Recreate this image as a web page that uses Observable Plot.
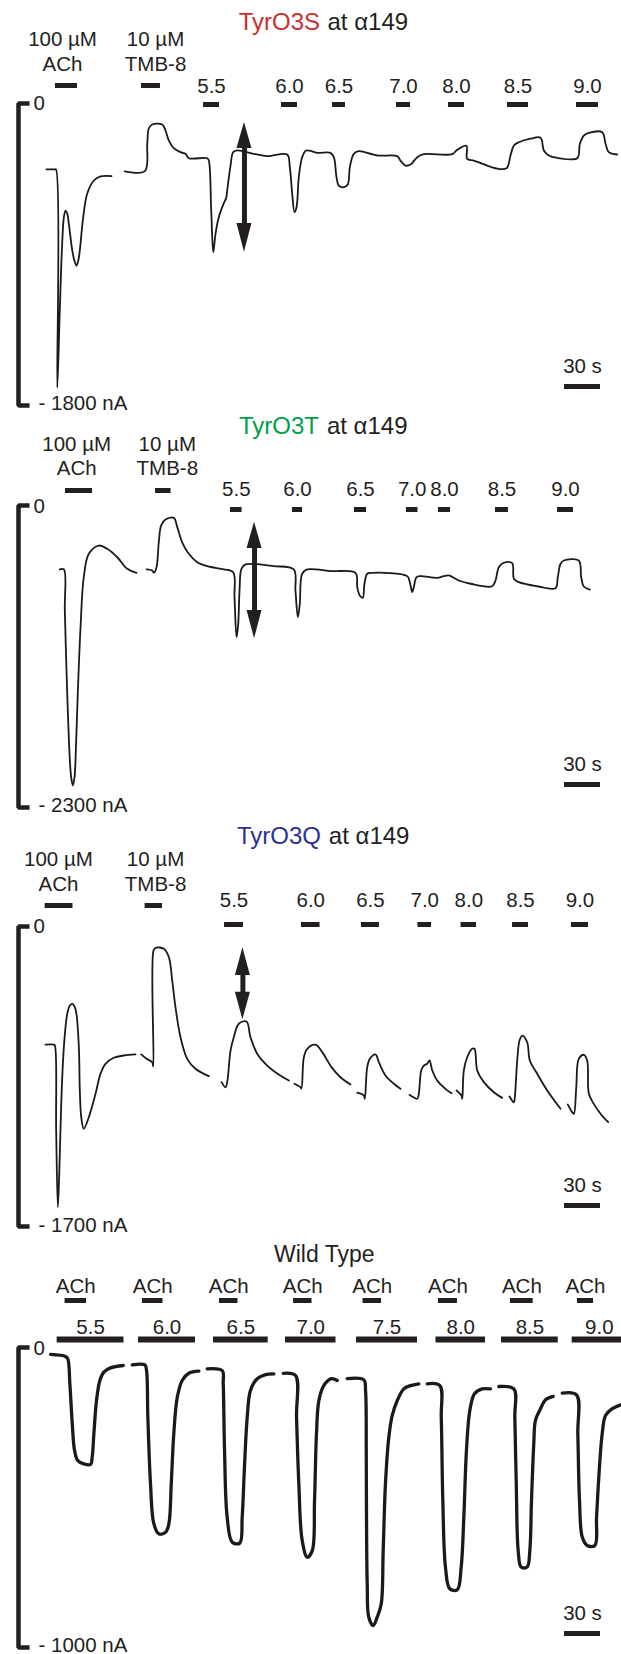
<!DOCTYPE html>
<html><head><meta charset="utf-8">
<script src="https://cdn.jsdelivr.net/npm/d3@7"></script>
<script src="https://cdn.jsdelivr.net/npm/@observablehq/plot@0.6"></script>
<style>
body{margin:0;background:#fff;}
#fig{width:621px;}
#fig svg{display:block;}
</style></head><body><div id="fig"></div>
<script>
// ---------- DATA (time in s, current in nA) ----------
// Panel 1: TyrO3S at α149
const s_segments = [
 [[38.3,-393],[45.0,-393],[46.2,-393],[47.3,-1693],[49.4,-1234],[51.4,-834],[52.8,-678],[54.2,-638],[55.6,-656],[56.9,-715],[59.8,-876],[61.5,-935],[63.3,-966],[65,-930],[66.1,-876],[68.9,-679],[72.3,-536],[77.8,-459],[83.3,-435],[92.5,-433]],
 [[103.6,-405],[120.3,-403],[122.3,-238],[123.6,-149],[126.4,-125],[134.8,-125],[137.5,-161],[140.3,-221],[144.4,-266],[150,-290],[154.2,-300],[156.9,-326],[172.3,-326],[173.6,-340],[175.6,-638],[177.3,-886],[179.2,-775],[181.9,-678],[186.1,-594],[188.1,-562],[188.9,-519],[191.7,-370],[193.9,-290],[197.3,-280],[211.1,-300],[222.3,-314],[238.9,-304],[241.1,-380],[243.1,-538],[245,-648],[246.7,-618],[248.6,-439],[251.4,-320],[254.8,-280],[263.9,-294],[275,-294],[277.8,-320],[280,-439],[281.9,-489],[286.1,-499],[289.4,-483],[291.1,-380],[294.4,-300],[298.6,-284],[313.9,-310],[330.6,-314],[333.3,-340],[337.5,-370],[341.7,-364],[347.3,-320],[352.8,-302],[376.4,-302],[380.6,-276],[388.3,-252],[388.9,-330],[394.4,-340],[405.6,-370],[412.5,-386],[421.7,-386],[425,-310],[427.8,-250],[431.9,-231],[441.7,-210],[450,-204],[452.8,-280],[456.9,-310],[463.9,-324],[480.6,-326],[482.8,-240],[486.1,-191],[490.3,-175],[501.4,-171],[504.2,-240],[506.9,-290],[513.9,-304]]
];
const s_chemTop = ["100 µM","10 µM"];
const s_chemBottom = ["ACh","TMB-8"];
const s_chemLabelAt = [51.7,129.2];
const s_chemStart = [45.8,117.5];
const s_chemEnd = [64.2,133.3];
const s_pH = ["5.5","6.0","6.5","7.0","8.0","8.5","9.0"];
const s_pHStart = [169.2,234.2,276.7,330,373.3,422.5,480];
const s_pHEnd = [182.5,247.5,287.5,341.7,386.7,440,498.3];
const s_arrow = {at:203.3, tipTop:-113, baseTop:-268, baseBottom:-715, tipBottom:-886};

// Panel 2: TyrO3T at α149
const t_segments = [
 [[49.4,-487],[52.8,-487],[53.6,-800],[55.6,-1432],[57.8,-1942],[58.9,-2069],[60.3,-2132],[61.7,-2069],[62.5,-1942],[64.4,-1432],[66.7,-927],[69.4,-546],[73.6,-368],[81.9,-305],[88.9,-330],[97.3,-394],[105.6,-482],[113.3,-513]],
 [[121.7,-487],[126.4,-495],[127.8,-513],[130,-470],[131.9,-280],[133.9,-152],[137.5,-107],[144.4,-94],[147.3,-165],[151.4,-280],[156.9,-368],[163.9,-432],[172.3,-462],[186.1,-487],[193.9,-508],[195,-698],[196.7,-1003],[198.1,-901],[199.2,-647],[200.8,-482],[204.2,-449],[227.8,-462],[244.4,-487],[245.8,-647],[247.8,-851],[249.4,-749],[251.4,-520],[255.6,-487],[275.8,-500],[295.8,-513],[297.3,-622],[299.4,-685],[301.9,-703],[303.3,-596],[305.6,-520],[309.8,-513],[338.9,-538],[341.1,-584],[343.1,-660],[344.4,-622],[346.7,-546],[350,-538],[363.9,-551],[369.4,-538],[373.6,-533],[381.9,-571],[391.7,-596],[409.7,-615],[412.5,-571],[415.3,-470],[419.4,-436],[426.4,-439],[427.8,-558],[431.9,-584],[447.3,-615],[462.5,-630],[464.4,-546],[466.7,-444],[469.4,-419],[481.9,-419],[483.9,-546],[486.1,-617],[491.1,-640]]
];
const t_chemTop = ["100 µM","10 µM"];
const t_chemBottom = ["ACh","TMB-8"];
const t_chemLabelAt = [63.5,139];
const t_chemStart = [54.2,129.2];
const t_chemEnd = [76.7,142.1];
const t_pH = ["5.5","6.0","6.5","7.0","8.0","8.5","9.0"];
const t_pHStart = [191.7,243.3,295,338.3,365,412.5,464.2];
const t_pHEnd = [201.3,251.7,305,347.9,375,423.3,477.5];
const t_arrow = {at:211.7, tipTop:-127, baseTop:-327, baseBottom:-800, tipBottom:-1015};

// Panel 3: TyrO3Q at α149
const q_segments = [
 [[37.5,-669],[44.4,-669],[45.3,-674],[46.4,-1156],[47.8,-1591],[49.2,-1345],[50.8,-967],[52.8,-684],[55.6,-495],[57.8,-448],[59.8,-438],[61.7,-453],[63.3,-495],[65.3,-684],[66.1,-929],[67.3,-1081],[69.4,-1146],[73.6,-1081],[79.2,-948],[83.3,-835],[87.5,-778],[94.4,-744],[102.8,-731],[112.5,-725]],
 [[117.3,-725],[121.7,-750],[126.4,-769],[127.3,-793],[127.5,-136],[129.2,-121],[136.1,-126],[140.3,-174],[143.1,-306],[145.8,-457],[150,-627],[155.6,-750],[162.5,-806],[173.6,-848]],
 [[184.2,-882],[187.5,-911],[188.9,-882],[191.7,-703],[194.4,-627],[198.6,-551],[205,-538],[208.3,-627],[213.9,-721],[222.3,-788],[231.9,-839],[240.3,-873]],
 [[245,-891],[250,-911],[250.8,-918],[252.8,-741],[255.6,-693],[262.5,-670],[268.1,-712],[275.8,-797],[283.3,-854],[291.7,-895]],
 [[297.3,-942],[302.8,-958],[303.6,-976],[305.6,-797],[307.8,-750],[312.5,-725],[315.3,-769],[320.8,-844],[327.8,-891],[333.3,-920]],
 [[340.8,-954],[347.3,-976],[348.6,-948],[350.6,-816],[352.8,-788],[355.6,-778],[357.5,-759],[359.8,-816],[363.9,-873],[370.8,-920],[375.8,-945]],
 [[380,-929],[384.2,-958],[384.8,-976],[386.1,-816],[388.9,-741],[393.1,-693],[395,-693],[397.3,-816],[402.8,-882],[411.1,-939],[418.1,-971]],
 [[424.2,-963],[427.8,-996],[428.6,-967],[430.6,-759],[432.5,-646],[434.8,-618],[438.9,-656],[441.1,-759],[447.3,-835],[455.6,-929],[466.7,-1033]],
 [[472.8,-1009],[476.4,-1052],[477.8,-1061],[479.8,-911],[481.9,-750],[486.1,-727],[488.9,-759],[490.3,-948],[494.4,-1005],[500,-1061],[506.4,-1109]]
];
const q_chemTop = ["100 µM","10 µM"];
const q_chemBottom = ["ACh","TMB-8"];
const q_chemLabelAt = [48.3,129.2];
const q_chemStart = [37.2,120.5];
const q_chemEnd = [60.4,135];
const q_pH = ["5.5","6.0","6.5","7.0","8.0","8.5","9.0"];
const q_pHStart = [186.7,250.8,300.8,347.9,383.8,426.7,475.8];
const q_pHEnd = [202.5,266.3,315.8,359.2,396.7,440,490];
const q_arrow = {at:202, tipTop:-121, baseTop:-278, baseBottom:-372, tipBottom:-529};

// Panel 4: Wild Type
const w_segments = [
 [[41.7,-23],[54.2,-30],[56.1,-38],[57.8,-121],[59.8,-254],[61.7,-343],[64.4,-377],[69.4,-388],[75,-390],[76.4,-366],[77.8,-288],[80,-177],[82.8,-110],[86.1,-82],[91.7,-68],[102.3,-60]],
 [[109.8,-58],[120.3,-58],[121.7,-77],[122.8,-232],[125,-454],[127.8,-588],[131.9,-621],[137.5,-616],[140.3,-588],[142.3,-454],[144.4,-288],[147.3,-166],[151.4,-110],[156.9,-86],[165.3,-79]],
 [[172.3,-71],[184.8,-77],[185.6,-121],[186.7,-343],[188.9,-566],[193.1,-649],[199.4,-652],[201.4,-566],[203.3,-399],[205.6,-232],[208.3,-143],[213.9,-104],[220.3,-91],[227.8,-88]],
 [[235.6,-86],[245.8,-93],[246.7,-232],[248.6,-454],[251.4,-643],[255.6,-699],[259.8,-677],[261.7,-510],[263.3,-288],[265.3,-177],[269.4,-127],[275.8,-104],[280.6,-110]],
 [[288.9,-104],[302.8,-108],[304.2,-143],[304.8,-343],[305,-566],[305.6,-788],[306.9,-899],[310.6,-927],[313.9,-899],[317.3,-854],[318.9,-677],[320.8,-454],[323.6,-299],[326.4,-227],[330.6,-177],[336.1,-138],[341.7,-127],[348.6,-121]],
 [[355.6,-121],[366.1,-127],[367.3,-232],[368.6,-510],[370.8,-732],[374.4,-804],[380.6,-808],[383.9,-732],[386.1,-566],[388.3,-343],[391.1,-210],[395,-154],[401.4,-138],[408.3,-138]],
 [[415.3,-130],[427.8,-138],[428.6,-232],[429.8,-454],[431.4,-677],[433.9,-732],[438.9,-732],[441.1,-677],[442.5,-510],[444.4,-321],[445.8,-243],[450,-204],[454.2,-174],[460.6,-163]],
 [[468.1,-152],[480,-158],[481.1,-288],[482.5,-510],[484.8,-632],[488.9,-660],[495.3,-660],[496.7,-566],[498.6,-432],[501.4,-288],[504.2,-227],[509.8,-204],[517.5,-190]]
];
const w_pH = ["5.5","6.0","6.5","7.0","7.5","8.0","8.5","9.0"];
const w_pHStart = [47.2,115,177.5,237.5,296.7,362.9,417.5,476.4];
const w_pHEnd = [102.9,162.5,223.1,279.6,347.5,404.2,464.8,521.7];
const w_achStart = [53.8,118.3,182.5,244.2,302.1,365,425,480.8];
const w_achEnd = [71.7,135.4,197.9,259.6,317.5,380.8,443.9,494.2];

const scaleBarSeconds = 30;

// ---------- DRAWING ----------
const INK = "#231f20";
const FONT = "'Liberation Sans', Arial, Helvetica, sans-serif";
const LAB = 20.5;
const TITLE = 24;

function tri(x, base, tip, hw) {
  return [{x: x - hw, a: base, b: base}, {x: x, a: base, b: tip}, {x: x + hw, a: base, b: base}];
}

function panelPlot(o) {
  const pts = o.segments.flatMap((seg, i) => seg.map(([t, v]) => ({t, v, seg: i})));
  const pH = o.pH.map((p, i) => ({label: p, x1: o.pHStart[i], x2: o.pHEnd[i]}));
  const marks = [];
  // vertical calibration bracket
  const br = [[24.2, 0], [15, 0], [15, o.yMin], [24.2, o.yMin]];
  marks.push(Plot.line(br, {x: d => d[0], y: d => d[1], stroke: INK, strokeWidth: 4.5, strokeLinejoin: "miter", strokeLinecap: "butt"}));
  marks.push(Plot.text(["0"], {x: () => 27.5, y: () => 0, text: d => d, textAnchor: "start", fontSize: LAB, fill: INK, dy: o.d.zero}));
  marks.push(Plot.text([o.yMin], {x: () => 31.7, y: d => d, text: d => "- " + (-d) + " nA", textAnchor: "start", fontSize: LAB, fill: INK, dy: o.d.bottom}));
  // title
  if (o.titleColor) {
    marks.push(Plot.text([o.titleName], {x: () => o.titleEnd, y: () => 0, text: d => d, textAnchor: "end", fontSize: TITLE, fill: o.titleColor, dy: o.d.title}));
    marks.push(Plot.text(["at α149"], {x: () => o.titleStart, y: () => 0, text: d => d, textAnchor: "start", fontSize: TITLE, fill: INK, dy: o.d.title}));
  } else {
    marks.push(Plot.text([o.titleName], {x: () => o.titleStart, y: () => 0, text: d => d, textAnchor: "middle", fontSize: 23, fill: INK, dy: o.d.title}));
  }
  // drug application labels/bars
  if (o.chem) {
    const chem = o.chem.top.map((t, i) => ({top: t, bottom: o.chem.bottom[i], at: o.chem.at[i], x1: o.chem.start[i], x2: o.chem.end[i]}));
    marks.push(Plot.text(chem, {x: "at", y: () => 0, text: "top", fontSize: LAB, fill: INK, dy: o.d.line1}));
    marks.push(Plot.text(chem, {x: "at", y: () => 0, text: "bottom", fontSize: LAB, fill: INK, dy: o.d.line2}));
    marks.push(Plot.ruleY(chem, {x1: "x1", x2: "x2", y: () => 0, stroke: INK, strokeWidth: 5, dy: o.d.chemBar}));
  }
  if (o.ach) {
    const ach = o.ach.start.map((s, i) => ({x1: s, x2: o.ach.end[i]}));
    marks.push(Plot.text(ach, {x: d => (d.x1 + d.x2) / 2, y: () => 0, text: () => "ACh", fontSize: LAB, fill: INK, dy: o.d.line1}));
    marks.push(Plot.ruleY(ach, {x1: "x1", x2: "x2", y: () => 0, stroke: INK, strokeWidth: 5, dy: o.d.chemBar}));
  }
  marks.push(Plot.text(pH, {x: d => (d.x1 + d.x2) / 2, y: () => 0, text: "label", fontSize: LAB, fill: INK, dy: o.d.pHLabel}));
  marks.push(Plot.ruleY(pH, {x1: "x1", x2: "x2", y: () => 0, stroke: INK, strokeWidth: o.pHBarWidth || 5, dy: o.d.pHBar}));
  // time scale bar
  marks.push(Plot.ruleY([o.yMin], {x1: () => 500 - scaleBarSeconds, x2: () => 500, stroke: INK, strokeWidth: 5, dy: o.d.sbBar}));
  marks.push(Plot.text([scaleBarSeconds + " s"], {x: () => 500 - scaleBarSeconds / 2, y: () => o.yMin, text: d => d, fontSize: LAB, fill: INK, dy: o.d.sbText}));
  // double arrow
  if (o.arrow) {
    const a = o.arrow;
    marks.push(Plot.ruleX([a.at], {y1: () => a.baseTop + 20, y2: () => a.baseBottom - 20, stroke: INK, strokeWidth: 5}));
    marks.push(Plot.area(tri(a.at, a.baseTop, a.tipTop, 6.25), {x1: "x", y1: "a", y2: "b", fill: INK, curve: "linear"}));
    marks.push(Plot.area(tri(a.at, a.baseBottom, a.tipBottom, 6.25), {x1: "x", y1: "a", y2: "b", fill: INK, curve: "linear"}));
  }
  // current trace
  marks.push(Plot.line(pts, {x: "t", y: "v", z: "seg", stroke: "#1a1a1a", strokeWidth: o.lw, curve: "catmull-rom", strokeLinejoin: "round", strokeLinecap: "round"}));

  return Plot.plot({
    width: 621, height: o.height, margin: 0,
    x: {domain: [0, 517.5], range: [0, 621], axis: null},
    y: {domain: [o.yMin, 0], range: [o.bottom, o.top], axis: null},
    style: {fontFamily: FONT, background: "#fff", overflow: "visible"},
    marks
  });
}

const fig = document.getElementById("fig");
fig.append(panelPlot({
  height: 410, top: 103, bottom: 405, yMin: -1800, lw: 1.8,
  segments: s_segments, titleName: "TyrO3S", titleColor: "#c8302f", titleEnd: 266.3, titleStart: 272.5,
  chem: {top: s_chemTop, bottom: s_chemBottom, at: s_chemLabelAt, start: s_chemStart, end: s_chemEnd},
  pH: s_pH, pHStart: s_pHStart, pHEnd: s_pHEnd, arrow: s_arrow,
  d: {title: -81, line1: -64, line2: -39, chemBar: -18, pHLabel: -17, pHBar: 1, zero: 0, bottom: -2, sbText: -39, sbBar: -19}
}));
fig.append(panelPlot({
  height: 412, top: 95, bottom: 397, yMin: -2300, lw: 1.8,
  segments: t_segments, titleName: "TyrO3T", titleColor: "#00a04b", titleEnd: 265.4, titleStart: 272,
  chem: {top: t_chemTop, bottom: t_chemBottom, at: t_chemLabelAt, start: t_chemStart, end: t_chemEnd},
  pH: t_pH, pHStart: t_pHStart, pHEnd: t_pHEnd, arrow: t_arrow,
  d: {title: -79, line1: -61, line2: -37.5, chemBar: -15, pHLabel: -16, pHBar: 4, zero: 1, bottom: -2, sbText: -43, sbBar: -23}
}));
fig.append(panelPlot({
  height: 420, top: 104, bottom: 404, yMin: -1700, lw: 1.8,
  segments: q_segments, titleName: "TyrO3Q", titleColor: "#2e3192", titleEnd: 267.1, titleStart: 273.6,
  chem: {top: q_chemTop, bottom: q_chemBottom, at: q_chemLabelAt, start: q_chemStart, end: q_chemEnd},
  pH: q_pH, pHStart: q_pHStart, pHEnd: q_pHEnd, arrow: q_arrow,
  d: {title: -90, line1: -67, line2: -42, chemBar: -21, pHLabel: -26, pHBar: -2, zero: 0, bottom: -1, sbText: -41, sbBar: -21}
}));
fig.append(panelPlot({
  height: 412, top: 105, bottom: 405, yMin: -1000, lw: 3.3,
  segments: w_segments, titleName: "Wild Type", titleColor: null, titleStart: 269.8,
  ach: {start: w_achStart, end: w_achEnd}, pHBarWidth: 6,
  pH: w_pH, pHStart: w_pHStart, pHEnd: w_pHEnd, arrow: null,
  d: {title: -93, line1: -61.5, chemBar: -47, pHLabel: -20, pHBar: -8, zero: 1, bottom: -2, sbText: -34, sbBar: -14}
}));
</script>
</body></html>
